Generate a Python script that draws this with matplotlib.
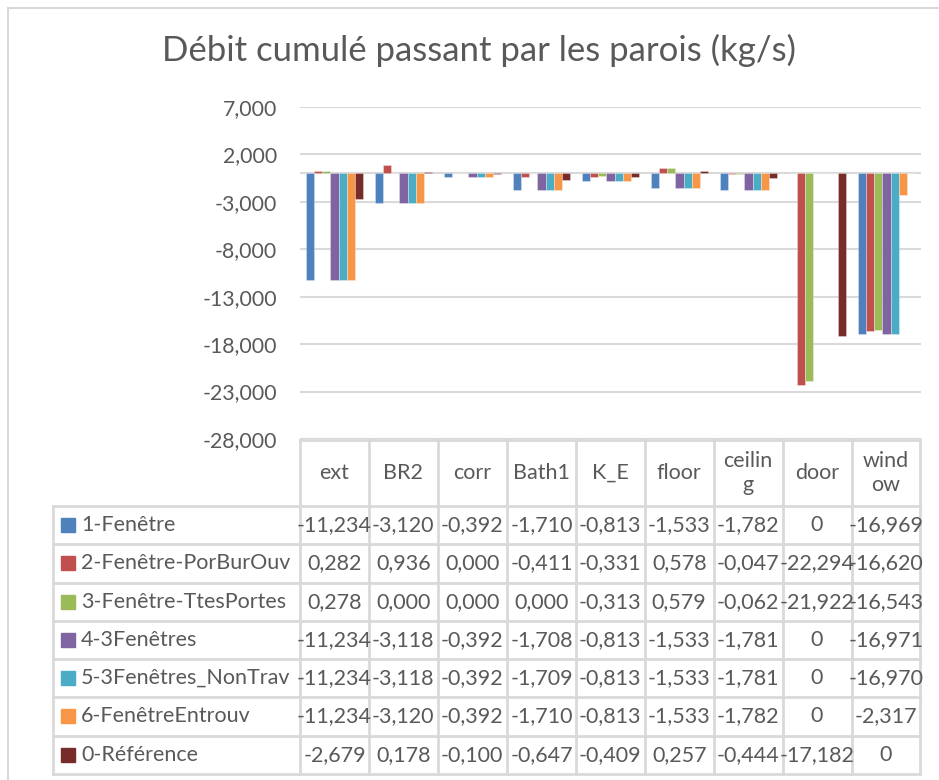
import matplotlib
matplotlib.use("Agg")
import matplotlib.pyplot as plt
import numpy as np
from matplotlib.ticker import FixedLocator, FuncFormatter
from matplotlib.lines import Line2D
from matplotlib.patches import Rectangle

plt.rcParams['font.family'] = ['Lato', 'DejaVu Sans']

title = "Débit cumulé passant par les parois (kg/s)"
categories = ["ext", "BR2", "corr", "Bath1", "K_E", "floor", "ceilin\ng", "door", "wind\now"]
series_names = ["1-Fenêtre", "2-Fenêtre-PorBurOuv", "3-Fenêtre-TtesPortes", "4-3Fenêtres",
                "5-3Fenêtres_NonTrav", "6-FenêtreEntrouv", "0-Référence"]
s1 = [-11.234, -3.120, -0.392, -1.710, -0.813, -1.533, -1.782, 0, -16.969]
s2 = [0.282, 0.936, 0.000, -0.411, -0.331, 0.578, -0.047, -22.294, -16.620]
s3 = [0.278, 0.000, 0.000, 0.000, -0.313, 0.579, -0.062, -21.922, -16.543]
s4 = [-11.234, -3.118, -0.392, -1.708, -0.813, -1.533, -1.781, 0, -16.971]
s5 = [-11.234, -3.118, -0.392, -1.709, -0.813, -1.533, -1.781, 0, -16.970]
s6 = [-11.234, -3.120, -0.392, -1.710, -0.813, -1.533, -1.782, 0, -2.317]
s0 = [-2.679, 0.178, -0.100, -0.647, -0.409, 0.257, -0.444, -17.182, 0]
series = [s1, s2, s3, s4, s5, s6, s0]
colors = ["#4F81BD", "#C0504D", "#9BBB59", "#8064A2", "#4BACC6", "#F79646", "#772C2A"]
yticks = [7, 2, -3, -8, -13, -18, -23, -28]

W, H = 939, 780
fig = plt.figure(figsize=(W / 100, H / 100), dpi=100)
txtc = "#595959"
gridc = "#D9D9D9"

def fx(x):
    return x / W

def fy(y):
    return 1 - y / H

# chart outer border
fig.add_artist(Line2D([fx(8), fx(8)], [fy(8), fy(790)], color=gridc, lw=1.5))
fig.add_artist(Line2D([fx(8), fx(950)], [fy(8), fy(8)], color=gridc, lw=1.5))

# plot area
L, R, T, B = 300, 921, 107, 439
ax = fig.add_axes([fx(L), fy(B), (R - L) / W, (B - T) / H])
n = len(series)
bw = 1 / 8.5
x = np.arange(len(categories))
for i, (vals, c) in enumerate(zip(series, colors)):
    ax.bar(x + (i - (n - 1) / 2) * bw, vals, width=bw, color=c, zorder=3,
           edgecolor=(1, 1, 1, 0.35), linewidth=0.6)
ax.set_xlim(-0.5, len(categories) - 0.5)
ax.set_ylim(min(yticks), max(yticks))
ax.yaxis.set_major_locator(FixedLocator(yticks))
ax.yaxis.set_major_formatter(FuncFormatter(lambda v, p: f"{v:.3f}".replace('.', ',')))
ax.set_xticks([])
ax.tick_params(axis='y', length=0, pad=16.5, labelsize=15.3, labelcolor=txtc)
for s in ax.spines.values():
    s.set_visible(False)
for t in yticks:
    ax.axhline(t, color=gridc, lw=1.5, zorder=1)
ax.axhline(0, color=gridc, lw=1.5, zorder=2)

# title
fig.text(fx(479), fy(50), title, ha='center', va='center', fontsize=25, color=txtc)

# data table
col_x = [300, 369, 437.5, 507, 576, 644.5, 714, 782.5, 851.5, 920]
row_y = [506, 544.3, 582.5, 620.8, 659, 697.3, 735.5, 773.8]
head_top = 440
leg_left = 53
tl = 2
for cx in col_x:
    fig.add_artist(Line2D([fx(cx), fx(cx)], [fy(head_top), fy(row_y[-1])], color=gridc, lw=tl))
fig.add_artist(Line2D([fx(col_x[0]), fx(col_x[-1])], [fy(head_top), fy(head_top)], color=gridc, lw=tl))
fig.add_artist(Line2D([fx(leg_left), fx(leg_left)], [fy(row_y[0]), fy(row_y[-1])], color=gridc, lw=tl))
for ry in row_y:
    fig.add_artist(Line2D([fx(leg_left), fx(col_x[-1])], [fy(ry), fy(ry)], color=gridc, lw=tl))

fs = 15.5
for j, cat in enumerate(categories):
    cxm = (col_x[j] + col_x[j + 1]) / 2
    fig.text(fx(cxm), fy((head_top + row_y[0]) / 2), cat, ha='center', va='center',
             fontsize=fs, color=txtc, linespacing=1.25)

def fmt(v):
    if isinstance(v, int):
        return str(v)
    return f"{v:.3f}".replace('.', ',')

for i, (name, vals, c) in enumerate(zip(series_names, series, colors)):
    ym = (row_y[i] + row_y[i + 1]) / 2
    fig.add_artist(Rectangle((fx(61), fy(ym + 7)), 14 / W, 14 / H, color=c))
    fig.text(fx(81), fy(ym), name, ha='left', va='center', fontsize=fs, color=txtc)
    for j, v in enumerate(vals):
        cxm = (col_x[j] + col_x[j + 1]) / 2
        fig.text(fx(cxm), fy(ym), fmt(v), ha='center', va='center', fontsize=fs, color=txtc)

fig.savefig("out.png", dpi=100)
